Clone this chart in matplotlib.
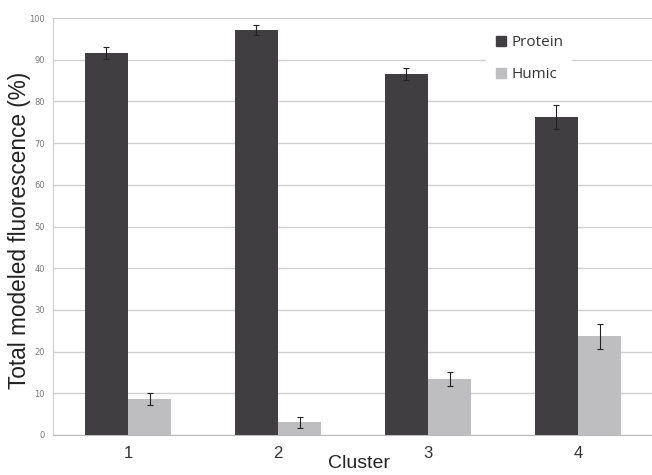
import matplotlib
matplotlib.use('Agg')
import matplotlib.pyplot as plt
from matplotlib.lines import Line2D
import numpy as np

clusters = ['1', '2', '3', '4']
protein = [91.6, 97.1, 86.6, 76.3]
protein_err = [1.4, 1.2, 1.5, 2.9]
humic = [8.6, 3.0, 13.4, 23.7]
humic_err = [1.4, 1.3, 1.6, 3.0]

dark = '#403e41'
light = '#bebec1'

fig = plt.figure(figsize=(6.52, 4.75), dpi=100)
ax = fig.add_axes([53 / 652, 40 / 475, 600 / 652, 417 / 475])

x = np.arange(len(clusters))
w = 0.287
ax.bar(x - w / 2, protein, w, color=dark, zorder=2)
ax.bar(x + w / 2, humic, w, color=light, zorder=2)
ax.errorbar(x - w / 2, protein, yerr=protein_err, fmt='none', ecolor='#222222',
            elinewidth=0.8, capsize=2.5, capthick=0.8, zorder=3)
ax.errorbar(x + w / 2, humic, yerr=humic_err, fmt='none', ecolor='#222222',
            elinewidth=0.8, capsize=2.5, capthick=0.8, zorder=3)

ax.set_xlim(-0.5, 3.5)
ax.set_ylim(0, 100)
ax.set_yticks(np.arange(0, 101, 10))
ax.yaxis.grid(True, color='#cfcfcf', linewidth=1.0, zorder=0)
ax.set_axisbelow(True)

for s in ['top', 'right']:
    ax.spines[s].set_visible(False)
ax.spines['left'].set_color('#cccccc')
ax.spines['bottom'].set_color('#bbbbbb')

ax.tick_params(axis='y', length=0, labelsize=6, labelcolor='#7a7a7a', pad=6)
ax.tick_params(axis='x', length=0, labelsize=12, labelcolor='#333333', pad=8)
ax.set_xticks(x)
ax.set_xticklabels(clusters, family='Liberation Sans')
for t in ax.get_yticklabels():
    t.set_family('DejaVu Sans')

ax.set_ylabel('Total modeled fluorescence (%)', fontsize=16.3, family='Liberation Sans',
              color='#222222')
ax.yaxis.set_label_coords(-22 / 600, 0.49)
ax.set_xlabel('Cluster', fontsize=14, family='Liberation Sans', color='#222222')
ax.xaxis.label.set_verticalalignment('top')
ax.xaxis.set_label_coords(0.51, -20 / 417)

handles = [Line2D([], [], marker='s', linestyle='none', markersize=7,
                  markerfacecolor=dark, markeredgecolor=dark),
           Line2D([], [], marker='s', linestyle='none', markersize=7,
                  markerfacecolor=light, markeredgecolor=light)]
leg = ax.legend(handles, ['Protein', 'Humic'], loc='upper left',
                bbox_to_anchor=(478 / 652, (475 - 20) / 475),
                bbox_transform=fig.transFigure, frameon=True, fancybox=False,
                edgecolor='white', facecolor='white', framealpha=1,
                prop={'family': 'Open Sans', 'size': 11}, labelspacing=1.1,
                handletextpad=0.2, handlelength=1.0, borderpad=0.5)
for t in leg.get_texts():
    t.set_color('#333333')

fig.savefig('out.png', dpi=100)
